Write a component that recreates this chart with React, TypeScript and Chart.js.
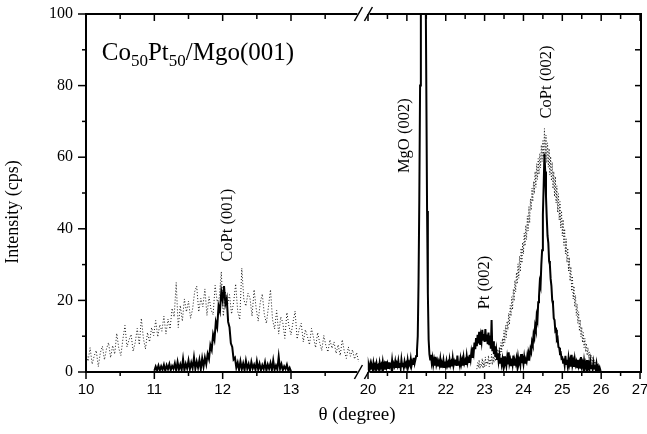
import React, { useEffect, useRef } from "react";
import { Chart, registerables } from "chart.js";

Chart.register(...registerables);

// ---------------- data ----------------
// Solid scan, low-angle part: theta from 11.00, step 0.02
const solidLowStart = 11.0;
const solidLowStep = 0.02;
const solidLow = [
  0.3, 1.5, 0.5, 1.8, 0.4, 1.6, 0.6, 2.0, 0.3, 1.9,
  0.8, 2.2, 0.5, 1.7, 0.9, 2.4, 0.4, 2.8, 0.7, 2.1,
  0.6, 3.6, 0.5, 2.3, 1.0, 3.2, 0.8, 2.6, 1.1, 4.1,
  0.9, 2.9, 1.2, 3.4, 0.8, 3.8, 1.5, 4.0, 2.2, 5.0,
  3.6, 7.5, 6.2, 10.5, 9.0, 14.0, 12.5, 18.5, 17.0, 22.5,
  20.0, 24.0, 19.0, 20.5, 14.0, 12.5, 8.0, 7.0, 3.5, 4.0,
  1.2, 2.6, 0.6, 3.0, 0.8, 2.4, 0.5, 3.1, 0.9, 2.2,
  0.4, 2.8, 1.0, 2.0, 0.6, 3.0, 0.7, 2.3, 0.5, 1.9,
  0.8, 2.7, 0.4, 2.1, 0.9, 2.5, 0.5, 3.2, 0.6, 1.8,
  0.7, 4.3, 0.9, 2.2, 0.5, 1.6, 0.8, 2.0, 0.4, 1.2,
  0.2,
];

// Solid scan, high-angle part: theta from 20.00, step 0.02
const solidHighStart = 20.0;
const solidHighStep = 0.02;
const solidHigh = [
  0.5, 1.8, 0.8, 2.2, 1.0, 1.6, 0.7, 2.5, 1.1, 1.9,
  0.9, 2.4, 1.2, 1.7, 0.8, 2.6, 1.3, 2.0, 1.0, 2.8,
  1.2, 2.1, 0.9, 3.0, 1.4, 2.3, 1.1, 2.7, 1.5, 2.0,
  1.0, 3.2, 1.3, 2.2, 1.6, 2.9, 1.2, 2.4, 1.7, 3.1,
  1.4, 2.5, 1.1, 3.4, 1.6, 2.6, 1.3, 2.9, 1.8, 2.4,
  1.5, 3.3, 1.7, 2.6, 2.0, 3.6, 1.8, 2.9, 2.2, 4.0,
  2.5, 3.5, 4.5, 6.0, 10, 25, 48, 80, 115, 150,
  180, 195, 185, 150, 115, 80, 45, 22, 9, 5,
  3.5, 4.8, 2.6, 3.9, 2.0, 3.3, 1.8, 4.2, 2.1, 3.0,
  1.6, 2.8, 1.9, 3.6, 1.5, 2.6, 2.0, 3.3, 1.4, 2.9,
  1.7, 3.1, 1.8, 2.5, 1.3, 3.4, 1.9, 2.7, 1.6, 3.8,
  1.8, 2.9, 2.1, 3.5, 1.7, 4.6, 2.0, 3.0, 1.9, 3.7,
  2.2, 3.3, 1.8, 4.0, 2.4, 3.1, 2.0, 4.4, 2.6, 3.6,
  2.8, 4.8, 3.5, 5.6, 4.2, 6.9, 5.5, 8.2, 6.4, 9.5,
  7.2, 10.4, 8.0, 11.2, 7.6, 10.0, 8.5, 11.8, 9.0, 10.6,
  8.4, 12.0, 8.8, 10.5, 7.8, 11.0, 7.5, 10.2, 6.5, 14.5,
  5.8, 8.6, 5.0, 7.2, 4.2, 6.0, 3.6, 5.2, 3.0, 4.6,
  2.6, 4.0, 2.2, 3.6, 1.9, 4.4, 2.3, 3.2, 1.8, 3.9,
  2.1, 5.5, 2.4, 3.4, 1.9, 3.8, 2.2, 4.6, 2.0, 3.1,
  2.3, 3.7, 1.8, 4.1, 2.4, 3.3, 2.0, 5.0, 2.5, 3.6,
  2.2, 4.2, 2.6, 3.4, 2.8, 4.6, 3.4, 5.2, 4.4, 6.4,
  5.6, 8.4, 7.6, 10.5, 9.6, 12.8, 11.8, 15.6, 14.5, 19.5,
  21.0, 25.0, 24.0, 30.0, 34.0, 44.0, 52.0, 61.0, 56.0, 49.0,
  43.0, 38.0, 36.0, 31.0, 30.0, 26.0, 24.0, 20.0, 19.0, 15.0,
  14.5, 11.5, 11.8, 9.0, 9.4, 7.0, 6.8, 5.2, 5.4, 3.8,
  4.0, 2.6, 3.8, 2.0, 4.5, 2.2, 3.4, 1.6, 3.9, 2.1,
  3.2, 1.5, 4.8, 1.9, 3.0, 1.4, 3.6, 2.0, 2.8, 1.3,
  3.4, 1.7, 2.6, 1.2, 4.2, 1.6, 2.5, 1.0, 3.1, 1.4,
  2.4, 0.9, 3.3, 1.2, 2.2, 0.8, 2.9, 1.1, 2.0, 0.7,
  2.6, 1.0, 1.9, 0.6, 2.3, 0.8, 1.5, 0.5, 1.2, 0.3,
];

// Dotted scan, low-angle part: theta from 10.00, step 0.03
const dottedLowStart = 10.0;
const dottedLowStep = 0.03;
const dottedLow = [
  5.2, 3.0, 6.8, 2.2, 4.5, 6.0, 1.5, 5.4, 7.2, 3.4,
  6.5, 8.2, 4.0, 7.4, 5.0, 10.8, 6.6, 4.6, 9.2, 13.0,
  7.0, 9.0, 10.5, 5.8, 8.2, 12.2, 7.6, 15.0, 9.4, 6.4,
  11.0, 8.4, 12.4, 10.2, 14.4, 9.8, 13.2, 11.4, 15.6, 10.6,
  14.8, 12.0, 17.8, 15.4, 25.0, 12.4, 18.6, 14.2, 20.4, 16.8,
  19.8, 15.0, 17.6, 22.4, 24.0, 16.8, 20.6, 18.2, 23.2, 15.8,
  21.0, 17.4, 16.0, 24.2, 19.6, 20.8, 28.0, 15.6, 22.4, 18.6,
  21.6, 16.2, 19.4, 24.6, 17.0, 14.6, 29.0, 20.2, 18.4, 22.0,
  20.6, 15.6, 23.0, 17.8, 14.2, 19.4, 21.8, 16.0, 13.6, 18.2,
  23.0, 14.6, 12.0, 17.2, 10.6, 15.4, 13.8, 9.4, 16.6, 12.8,
  10.4, 14.0, 17.0, 9.2, 12.0, 13.6, 8.4, 11.8, 10.0, 7.6,
  12.2, 9.6, 6.8, 11.0, 8.2, 6.0, 10.2, 7.4, 5.6, 9.0,
  6.6, 8.4, 5.2, 7.6, 4.6, 9.0, 5.8, 3.8, 7.0, 4.4,
  6.2, 3.6, 5.4, 2.8,
];

// Dotted scan, high-angle part: theta from 22.80, step 0.02
const dottedHighStart = 22.8;
const dottedHighStep = 0.02;
const dottedHigh = [
  0.8, 2.6, 1.2, 3.4, 0.9, 2.2, 1.6, 3.8, 1.0, 2.9,
  1.4, 4.2, 1.8, 3.0, 2.2, 4.6, 1.5, 3.6, 2.4, 5.0,
  2.0, 4.4, 2.6, 5.6, 3.0, 4.8, 3.6, 6.4, 4.2, 7.0,
  4.4, 8.2, 5.6, 9.4, 7.0, 11.6, 8.2, 13.0, 9.6, 14.2,
  11.8, 16.4, 13.2, 18.6, 15.6, 21.0, 17.4, 23.2, 19.8, 25.6,
  22.4, 27.8, 24.6, 30.2, 26.2, 32.4, 28.0, 34.6, 30.4, 36.2,
  33.0, 38.8, 35.2, 41.0, 37.0, 43.6, 39.4, 46.2, 41.6, 48.4,
  45.2, 51.4, 47.6, 53.2, 49.8, 56.0, 51.6, 58.2, 53.8, 59.6,
  55.2, 61.0, 57.0, 63.4, 58.8, 64.6, 60.0, 68.0, 59.6, 66.2,
  58.4, 64.0, 57.2, 62.4, 55.0, 60.2, 53.4, 58.6, 51.2, 56.0,
  49.0, 54.6, 47.2, 52.0, 44.6, 49.8, 42.4, 47.6, 40.2, 45.0,
  38.0, 42.6, 35.4, 40.0, 33.0, 37.2, 30.6, 34.6, 28.2, 32.0,
  25.4, 29.4, 22.6, 26.8, 20.4, 24.0, 18.2, 21.4, 15.8, 19.0,
  13.6, 16.8, 11.4, 14.6, 9.8, 12.6, 8.2, 11.0, 6.8, 9.4,
  5.6, 8.0, 4.6, 6.8, 3.8, 5.6, 3.0, 4.8, 2.4, 4.0,
  2.0, 3.4, 1.4, 2.8, 1.0, 2.2, 0.7, 1.6, 0.4, 1.2,
  0.2,
];

const xTicksLow = [10, 11, 12, 13];
const xTicksHigh = [20, 21, 22, 23, 24, 25, 26, 27];
const yTicks = [0, 20, 40, 60, 80, 100];

// peak labels anchored at (theta, intensity)
const peakLabels = [
  { text: "CoPt (001)", theta: 12.07, value: 41 },
  { text: "MgO (002)", theta: 20.95, value: 66 },
  { text: "Pt (002)", theta: 23.0, value: 25 },
  { text: "CoPt (002)", theta: 24.61, value: 81 },
];

// ---------------- broken-axis mapping ----------------
const LOW_MIN = 10;
const AXIS_MAX = 18.122;
const HIGH_U0 = 14.127; // axis coordinate of theta = 20
const HIGH_SCALE = 0.5687; // compression of the high-angle segment
const BREAK_U = 14.06;

const toU = (t: number) => (t < 17 ? t : HIGH_U0 + (t - 20) * HIGH_SCALE);
const fromU = (u: number) => (u < BREAK_U ? u : (u - HIGH_U0) / HIGH_SCALE + 20);

const series = (start: number, step: number, vals: number[]) =>
  vals.map((v, i) => ({ x: toU(start + i * step), y: v }));

const SERIF = "'Liberation Serif', 'Times New Roman', serif";
const SANS = "'Liberation Sans', Arial, sans-serif";

const framePlugin = {
  id: "frame",
  afterDraw(chart: any) {
    const { ctx, chartArea: a, scales } = chart;
    const xs = scales.x;
    const ys = scales.y;
    const px = (t: number) => xs.getPixelForValue(toU(t));
    const py = (v: number) => ys.getPixelForValue(v);
    const bx = xs.getPixelForValue(BREAK_U);
    const gap = 6;
    ctx.save();
    ctx.strokeStyle = "#000";
    ctx.fillStyle = "#000";
    ctx.lineCap = "butt";
    const seg = (x1: number, y1: number, x2: number, y2: number, w: number) => {
      ctx.lineWidth = w;
      ctx.beginPath();
      ctx.moveTo(x1, y1);
      ctx.lineTo(x2, y2);
      ctx.stroke();
    };
    // frame
    seg(a.left, a.top - 1, a.left, a.bottom + 1, 2);
    seg(a.right, a.top - 1, a.right, a.bottom + 1, 2);
    for (const yy of [a.top, a.bottom]) {
      seg(a.left, yy, bx - gap, yy, 2);
      seg(bx + gap, yy, a.right, yy, 2);
      // break marks
      seg(bx - gap - 3, yy + 7, bx - gap + 5, yy - 7, 1.5);
      seg(bx + gap - 5, yy + 7, bx + gap + 3, yy - 7, 1.5);
    }
    // x tick marks
    const xt: number[] = [];
    for (let t = 10; t <= 13.5; t += 0.5) xt.push(t);
    for (let t = 20; t <= 27; t += 0.5) xt.push(t);
    for (const t of xt) {
      const x = px(t);
      const major = Math.abs(t - Math.round(t)) < 1e-6;
      seg(x, a.bottom, x, a.bottom + (major ? 7 : 4), 1.5);
      seg(x, a.top, x, a.top + (major ? 7 : 5), 1.5);
    }
    // y tick marks
    for (let v = 0; v <= 100; v += 10) {
      const y = py(v);
      const major = v % 20 === 0;
      seg(a.left - (major ? 8 : 4), y, a.left, y, 1.5);
      seg(a.right - 6, y, a.right, y, 1.5);
    }
    // peak labels (rotated)
    ctx.font = `16.5px ${SERIF}`;
    ctx.textAlign = "center";
    ctx.textBaseline = "middle";
    for (const p of peakLabels) {
      ctx.save();
      ctx.translate(px(p.theta), py(p.value));
      ctx.rotate(-Math.PI / 2);
      ctx.fillText(p.text, 0, 0);
      ctx.restore();
    }
    // sample title with subscripts
    let tx = px(10.23);
    const ty = py(87.2);
    ctx.textAlign = "left";
    ctx.textBaseline = "alphabetic";
    const parts: [string, boolean][] = [
      ["Co", false], ["50", true], ["Pt", false], ["50", true], ["/Mgo(001)", false],
    ];
    for (const [s, sub] of parts) {
      ctx.font = sub ? `17px ${SERIF}` : `25px ${SERIF}`;
      ctx.fillText(s, tx, sub ? ty + 6 : ty);
      tx += ctx.measureText(s).width;
    }
    // axis titles
    ctx.font = `19px ${SERIF}`;
    ctx.textAlign = "center";
    ctx.textBaseline = "middle";
    ctx.fillText("\u03b8 (degree)", 357, 415);
    ctx.save();
    ctx.font = `18px ${SERIF}`;
    ctx.translate(13.5, 212);
    ctx.rotate(-Math.PI / 2);
    ctx.fillText("Intensity (cps)", 0, 0);
    ctx.restore();
    ctx.restore();
  },
};

export default function App() {
  const ref = useRef<HTMLCanvasElement>(null);
  useEffect(() => {
    if (!ref.current) return;
    const solidStyle = {
      borderColor: "#000",
      borderWidth: 2,
      pointRadius: 0,
      tension: 0,
      fill: false,
    };
    const dotStyle = {
      borderColor: "#1a1a1a",
      borderWidth: 1,
      borderDash: [1, 2],
      pointRadius: 0,
      tension: 0,
      fill: false,
    };
    const chart = new Chart(ref.current, {
      type: "line",
      data: {
        datasets: [
          { label: "solid low", data: series(solidLowStart, solidLowStep, solidLow), order: 0, ...solidStyle },
          { label: "solid high", data: series(solidHighStart, solidHighStep, solidHigh), order: 0, ...solidStyle },
          { label: "dotted low", data: series(dottedLowStart, dottedLowStep, dottedLow), order: 1, ...dotStyle },
          { label: "dotted high", data: series(dottedHighStart, dottedHighStep, dottedHigh), order: 1, ...dotStyle },
        ] as any,
      },
      options: {
        animation: false,
        responsive: false,
        events: [],
        layout: { padding: { top: 14, right: 6, left: 0, bottom: 0 } },
        plugins: { legend: { display: false }, tooltip: { enabled: false }, title: { display: false } },
        scales: {
          x: {
            type: "linear",
            min: LOW_MIN,
            max: AXIS_MAX,
            grid: { display: false, drawTicks: false },
            border: { display: false },
            afterBuildTicks: (s: any) => {
              s.ticks = [...xTicksLow, ...xTicksHigh].map((t) => ({ value: toU(t) }));
            },
            ticks: {
              autoSkip: false,
              maxRotation: 0,
              padding: 9,
              color: "#000",
              font: { family: SANS, size: 15 },
              callback: (v: any) => String(Math.round(fromU(Number(v)))),
            },
            afterFit: (s: any) => {
              s.height = 62;
              s.paddingLeft = 0;
              s.paddingRight = 0;
            },
          },
          y: {
            min: 0,
            max: 100,
            grid: { display: false, drawTicks: false },
            border: { display: false },
            afterBuildTicks: (s: any) => {
              s.ticks = yTicks.map((v) => ({ value: v }));
            },
            ticks: {
              padding: 13,
              color: "#000",
              font: { family: SERIF, size: 16 },
            },
            afterFit: (s: any) => {
              s.width = 86;
              s.paddingTop = 0;
              s.paddingBottom = 0;
            },
          },
        },
      } as any,
      plugins: [framePlugin],
    });
    return () => chart.destroy();
  }, []);
  return (
    <div style={{ position: "absolute", left: 0, top: 0, width: 647, height: 434, background: "#fff" }}>
      <canvas ref={ref} width={647} height={434} />
    </div>
  );
}
